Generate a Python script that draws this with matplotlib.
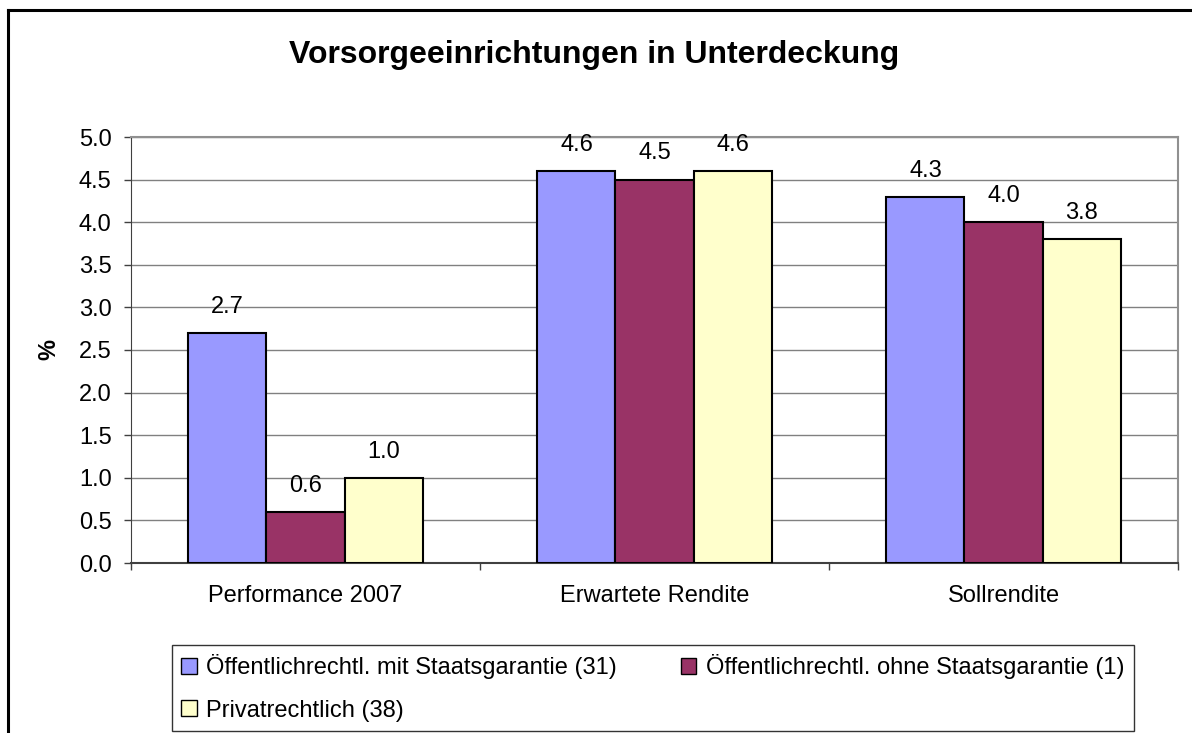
import matplotlib
matplotlib.use("Agg")
import matplotlib.pyplot as plt
import numpy as np
from matplotlib.lines import Line2D
from matplotlib.patches import Patch

plt.rcParams['font.family'] = ['Liberation Sans', 'DejaVu Sans']

# Daten
kategorien = ['Performance 2007', 'Erwartete Rendite', 'Sollrendite']
serien = ['Öffentlichrechtl. mit Staatsgarantie (31)',
          'Öffentlichrechtl. ohne Staatsgarantie (1)',
          'Privatrechtlich (38)']
werte_mit = [2.7, 4.6, 4.3]
werte_ohne = [0.6, 4.5, 4.0]
werte_privat = [1.0, 4.6, 3.8]
farben = ['#9999FF', '#993366', '#FFFFCC']

W, H = 1192, 733
fig = plt.figure(figsize=(W / 100, H / 100), dpi=100)
ax = fig.add_axes([131 / W, 170 / H, 1047 / W, 426 / H])

x = np.arange(len(kategorien))
breite = 0.2235
alle = [werte_mit, werte_ohne, werte_privat]
for i, (w, f) in enumerate(zip(alle, farben)):
    pos = x + (i - 1) * breite
    ax.bar(pos, w, width=breite, color=f, edgecolor='black', linewidth=1.5,
           label=serien[i], zorder=3)
    for px, v in zip(pos, w):
        ax.annotate(f'{v:.1f}', (px, v), xytext=(0, 14.5), textcoords='offset points',
                    ha='center', va='baseline', fontsize=17)

ax.set_xlim(-0.5, 2.5)
ax.set_ylim(0, 5)
ticks = np.arange(0, 5.01, 0.5)
ax.set_yticks(ticks)
ax.set_yticklabels([f'{t:.1f}' for t in ticks], fontsize=17)
ax.yaxis.grid(True, color='#808080', linewidth=1, zorder=0)

# Kategorien in der Mitte, Ticks an den Gruppengrenzen
ax.set_xticks(x)
ax.set_xticklabels(kategorien, fontsize=17)
ax.tick_params(axis='x', which='major', length=0, pad=16)
ax.set_xticks([-0.5, 0.5, 1.5, 2.5], minor=True)
ax.tick_params(axis='x', which='minor', length=5, width=1, color='#404040', direction='out')
ax.tick_params(axis='y', length=5, width=1, color='#404040', direction='out', pad=9)

ax.spines['left'].set_color('#404040')
ax.spines['bottom'].set_color('#404040')
ax.spines['bottom'].set_linewidth(1.5)
for s in ['top', 'right']:
    ax.spines[s].set_color('#909090')
    ax.spines[s].set_linewidth(1.5)

ax.set_ylabel('%', fontsize=17, fontweight='bold', labelpad=13)

fig.text(594 / W, 1 - 63 / H, 'Vorsorgeeinrichtungen in Unterdeckung',
         ha='center', va='baseline', fontsize=23, fontweight='bold')

# Legende: Reihenfolge so, dass Zeile 1 = Serie 1 und 2
griffe = [Patch(facecolor=f, edgecolor='black', linewidth=1) for f in farben]
ordnung = [0, 2, 1]
leg = fig.legend([griffe[i] for i in ordnung], [serien[i] for i in ordnung],
                 ncol=2, loc='upper left', mode='expand',
                 bbox_to_anchor=(172 / W, 1 - 731 / H, 962 / W, 86 / H),
                 fontsize=17, frameon=True, fancybox=False, edgecolor='black',
                 handlelength=0.64, handleheight=0.64, handletextpad=0.42,
                 columnspacing=0.3, borderpad=0.4, labelspacing=0.85, borderaxespad=0)
leg.get_frame().set_linewidth(1)

# äußerer Rahmen (links und oben)
fig.add_artist(Line2D([8 / W, 8 / W], [0, 1 - 10 / H], color='black', linewidth=2.2,
                      transform=fig.transFigure))
fig.add_artist(Line2D([8 / W, 1], [1 - 10 / H, 1 - 10 / H], color='black', linewidth=2.2,
                      transform=fig.transFigure))

fig.savefig('out.png', dpi=100)
